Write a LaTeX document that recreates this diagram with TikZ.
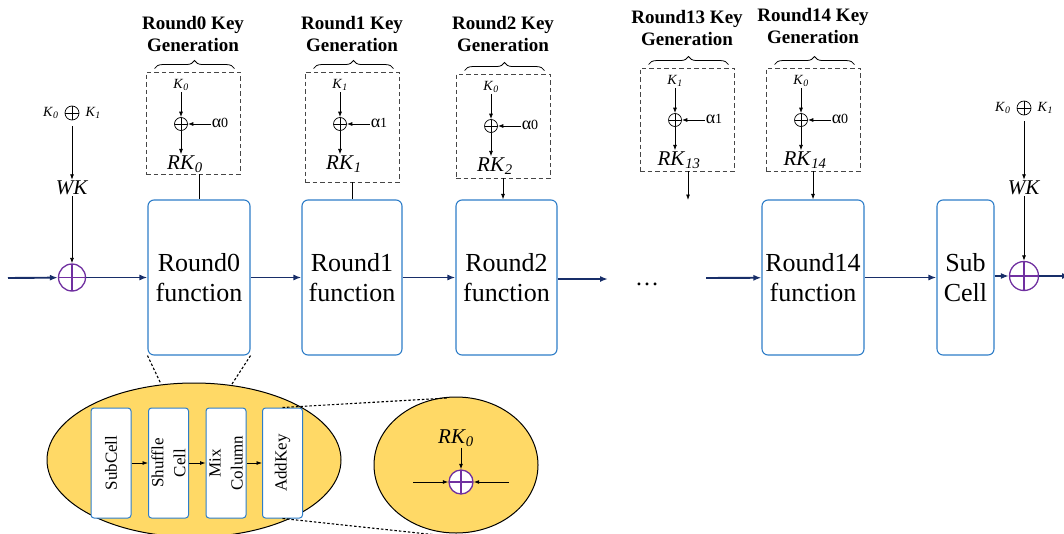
\documentclass[tikz,border=0pt]{standalone}
\usepackage{fontspec}
\setmainfont{Liberation Serif}
\usetikzlibrary{arrows.meta,decorations.pathreplacing,shapes.geometric,calc}

\definecolor{boxblue}{RGB}{46,125,200}
\definecolor{flownavy}{RGB}{24,46,105}
\definecolor{xorpurple}{RGB}{112,48,160}
\definecolor{zoomgold}{RGB}{255,217,102}
\definecolor{dashgray}{RGB}{70,70,70}

% key symbols with subscripts
\newcommand{\Ksub}[1]{\textit{K}\textsubscript{\textit{#1}}}
\newcommand{\RKsub}[1]{\textit{RK}\textsubscript{\textit{#1}}}
\newcommand{\alphasub}[1]{α\raisebox{-0.5pt}{\fontsize{14}{14}\selectfont #1}}

\tikzset{
  rbox/.style={draw=boxblue, line width=1.1pt, rounded corners=6pt, fill=white,
    minimum height=155pt, align=center, inner sep=0pt,
    font=\fontsize{26}{30}\selectfont},
  keybox/.style={draw=dashgray, dash pattern=on 4.5pt off 3pt, line width=0.9pt,
    minimum width=94pt, inner sep=0pt},
  title/.style={font=\bfseries\fontsize{19}{22}\selectfont, align=center},
  kin/.style={font=\fontsize{14}{14}\selectfont, inner sep=1pt},
  rkl/.style={font=\fontsize{21}{21}\selectfont, inner sep=1pt},
  alab/.style={font=\fontsize{18}{18}\selectfont, inner sep=1pt},
  sxor/.style={circle, draw, line width=0.7pt, minimum size=13pt, inner sep=0pt,
    path picture={\draw[line width=0.7pt]
      (path picture bounding box.north) -- (path picture bounding box.south)
      (path picture bounding box.west) -- (path picture bounding box.east);}},
  bxor/.style={circle, draw=xorpurple, line width=1.3pt, minimum size=27pt,
    inner sep=0pt, fill=white,
    path picture={\draw[xorpurple, line width=1.3pt]
      (path picture bounding box.north) -- (path picture bounding box.south)
      (path picture bounding box.west) -- (path picture bounding box.east);}},
  flow/.style={draw=flownavy, line width=1.9pt, -{Latex[length=8pt,width=6pt]}},
  karrow/.style={draw=black, line width=0.8pt, -{Latex[length=5.5pt,width=4pt]}},
  kline/.style={draw=black, line width=0.8pt},
  kbrace/.style={decorate, decoration={brace, amplitude=8pt}, line width=0.8pt},
  magline/.style={draw=black, line width=1.1pt, dash pattern=on 2.5pt off 2pt},
  zoomell/.style={ellipse, draw=black, line width=1pt, fill=zoomgold, inner sep=0pt},
  sbox/.style={draw=boxblue, line width=1pt, rounded corners=3pt, fill=white,
    minimum width=40pt, minimum height=110pt, inner sep=0pt},
  slab/.style={rotate=90, align=center, font=\fontsize{17}{22}\selectfont}
}

\begin{document}
\begin{tikzpicture}[x=1pt, y=-1pt]
\useasboundingbox (0,0) rectangle (1064,533);

% ---------- round-key generation blocks ----------
\foreach \n/\cx/\tp/\bt/\ty/\k/\a/\r in
  {0/193/72/174/34/0/0/0, 1/352/72/182/34/1/1/1, 2/503/74/178/34/0/0/2,
   13/687/68/171/28/1/1/13, 14/813/68/171/26/0/0/14}{
  \node[keybox, minimum height={\bt-\tp}] (kg\n) at (\cx,{(\tp+\bt)/2}) {};
  \draw[kbrace] ($(kg\n.north west)+(9,-3)$) -- ($(kg\n.north east)+(-6,-3)$);
  \node[title] (t\n) at (\cx,\ty) {Round\n{} Key\\Generation};
  \node[kin] (kk\n) at (\cx-12,\tp+13) {\Ksub{\k}};
  \node[sxor] (kx\n) at (\cx-12,\tp+52) {};
  \node[alab] (ka\n) at (\cx+27,\tp+51) {\alphasub{\a}};
  \node[rkl] (kr\n) at (\cx-8,\tp+92) {\RKsub{\r}};
  \draw[karrow] (kk\n) -- (kx\n);
  \draw[karrow] (ka\n.west |- kx\n) -- (kx\n);
  \draw[karrow] (kx\n) -- (kx\n |- kr\n.north);
}

% ---------- main data path ----------
\coordinate (in) at (8,278);
\node[bxor] (xl) at (72,277.5) {};
\node[rbox, minimum width=102pt] (r0) at (199,277.5) {Round0\\function};
\node[rbox, minimum width=100pt] (r1) at (352,277.5) {Round1\\function};
\node[rbox, minimum width=101pt] (r2) at (506.5,277.5) {Round2\\function};
\coordinate (gapA) at (608,279);
\node[font=\fontsize{24}{24}\selectfont] (dots) at (647,284) {\ldots};
\coordinate (gapB) at (706,278);
\node[rbox, minimum width=102pt] (r14) at (813,277.5) {Round14\\function};
\node[rbox, minimum width=57pt] (sc) at (965.5,277.5) {Sub\\Cell};
\node[bxor, minimum size=29pt] (xr) at (1024,276) {};
\coordinate (out) at (1070,276);

\draw[flow] (in) -- (xl);
\draw[flow] (xl) -- (r0);
\draw[flow] (r0) -- (r1);
\draw[flow] (r1) -- (r2);
\draw[flow] (r2.east |- gapA) -- (gapA);
\draw[flow] (gapB) -- (r14);
\draw[flow] (r14) -- (sc);
\draw[flow] (sc.east |- xr) -- (xr);
\draw[flow] (xr) -- (out);

% round keys into the round functions
\coordinate (rk13end) at (688,200);
\draw[kline] (kg0.south -| r0.north) -- (r0.north);
\draw[kline] (kg1.south -| r1.north) -- (r1.north);
\draw[karrow] (kg2.south) -- (kg2.south |- r2.north);
\draw[karrow] (kg13.south -| rk13end) -- (rk13end);
\draw[karrow] (kg14.south) -- (kg14.south |- r14.north);

% whitening keys: K0 xor K1
\node[sxor, minimum size=14pt] (keyl) at (72,113) {};
\node[kin, anchor=east] (kl0) at ($(keyl.west)+(-5,0)$) {\Ksub{0}};
\node[kin, anchor=west] (kl1) at ($(keyl.east)+(5,0)$) {\Ksub{1}};
\node[rkl] (wkl) at (72,188) {\textit{WK}};
\draw[karrow] ($(keyl.south)+(0,6)$) -- (wkl);
\draw[karrow] (wkl) -- (xl);
\node[sxor, minimum size=14pt] (keyr) at (1024,108) {};
\node[kin, anchor=east] (kr0) at ($(keyr.west)+(-5,0)$) {\Ksub{0}};
\node[kin, anchor=west] (kr1) at ($(keyr.east)+(5,0)$) {\Ksub{1}};
\node[rkl] (wkr) at (1024,188) {\textit{WK}};
\draw[karrow] ($(keyr.south)+(0,6)$) -- (wkr);
\draw[karrow] (wkr) -- (xr);

% ---------- inside a round function ----------
\node[zoomell, minimum width=294pt, minimum height=154pt] (zm) at (194,460) {};
\node[sbox] (sb1) at (111,463) {};
\node[sbox] (sb2) at (168.5,463) {};
\node[sbox] (sb3) at (226,463) {};
\node[sbox] (sb4) at (282.5,463) {};
\node[slab] at (sb1) {SubCell};
\node[slab] at (sb2) {Shuffle\\Cell};
\node[slab] at (sb3) {Mix\\Column};
\node[slab] at (sb4) {AddKey};
\draw[karrow] (sb1) -- (sb2);
\draw[karrow] (sb2) -- (sb3);
\draw[karrow] (sb3) -- (sb4);

\coordinate (zl) at (161,384);
\coordinate (zr) at (232,384);
\draw[magline] (r0.south west) -- (zl);
\draw[magline] (r0.south east) -- (zr);

% ---------- inside AddKey ----------
\node[zoomell, minimum width=164pt, minimum height=136pt] (mag) at (456,465) {};
\coordinate (mt) at (448,398);
\coordinate (mb) at (437,535);
\draw[magline] (sb4.north) -- (mt);
\draw[magline] (sb4.south) -- (mb);

\node[rkl] (rkm) at (456,438) {\RKsub{0}};
\node[bxor, minimum size=24pt] (xm) at (461,482) {};
\coordinate (ml) at (413,482);
\coordinate (mr) at (509,482);
\draw[karrow, line width=1pt] (rkm.south -| xm) -- (xm);
\draw[karrow, line width=1pt] (ml) -- (xm);
\draw[karrow, line width=1pt] (mr) -- (xm);
\end{tikzpicture}
\end{document}
